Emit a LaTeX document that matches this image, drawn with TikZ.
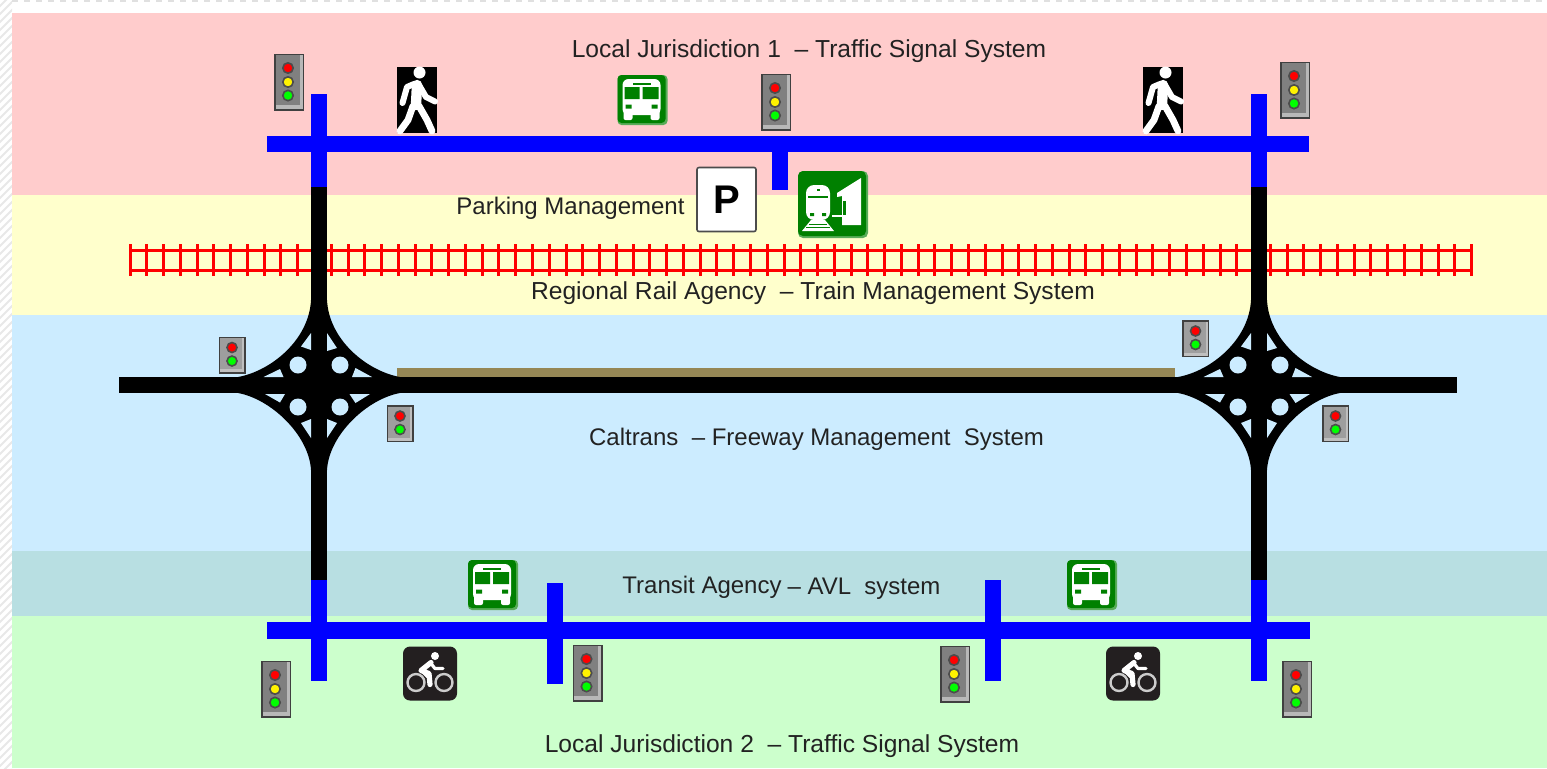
\documentclass[tikz,border=0pt]{standalone}
\usepackage{fontspec}
\setmainfont{Liberation Sans}
\definecolor{bandpink}{HTML}{FFCCCC}
\definecolor{bandyellow}{HTML}{FFFFCC}
\definecolor{bandblue}{HTML}{CCECFF}
\definecolor{bandteal}{HTML}{B8DFE2}
\definecolor{bandgreen}{HTML}{CCFFCC}
\definecolor{roadblue}{HTML}{0000FF}
\definecolor{tan}{HTML}{958755}
\definecolor{signgreen}{HTML}{008000}
\definecolor{bikeblack}{HTML}{231F20}
\definecolor{labelink}{HTML}{222222}
\tikzset{
  x=0.5pt,y=-0.5pt,
  lbl/.style={inner sep=0pt,text=labelink,font=\fontsize{12.3pt}{14pt}\selectfont},
  lblnarrow/.style={inner sep=0pt,text=labelink,font=\fontsize{12pt}{14pt}\selectfont},
  lamp/.style={draw=black!70,line width=0.8pt},
  iconwhite/.style={white,line width=3pt,line cap=round,line join=round},
  signalthree/.pic={
    \fill[black!75] (-15,-28.5) rectangle (15,28.5);
    \fill[black!28] (-13.5,-27) rectangle (13.5,27);
    \fill[black!50] (-13.5,-27) rectangle (10.5,23);
    \fill[red,lamp] (-1,-14) circle (5.2);
    \fill[yellow,lamp] (-1,0) circle (5.2);
    \fill[green,lamp] (-1,13.5) circle (5.2);
  },
  signaltwo/.pic={
    \fill[black!75] (-13.5,-18.5) rectangle (13.5,18.5);
    \fill[black!25] (-12,-17) rectangle (12,17);
    \fill[black!38] (-12,-17) rectangle (10,14);
    \fill[red,lamp] (0,-7.5) circle (5);
    \fill[green,lamp] (0,6) circle (5);
  },
  walkersign/.pic={
    \fill[black] (-20,-33) rectangle (20,33);
    \fill[white] (2.5,-27.5) circle (6);
    \draw[iconwhite,line width=5.2pt] (0,-15) -- (-1,5);
    \draw[iconwhite] (-3,-16) -- (-10,-13) -- (-14.5,3);
    \draw[iconwhite] (2,-15) -- (9,-3) -- (18,1.5);
    \draw[iconwhite,line width=3.4pt] (-4,6) -- (-9,20) -- (-17,31);
    \draw[iconwhite,line width=3.4pt] (2,6) -- (10,20) -- (15,31);
  },
  bussign/.pic={
    \fill[signgreen!65!white,rounded corners=2pt] (-25,-25) rectangle (25,25);
    \fill[signgreen,rounded corners=2pt] (-25,-25) rectangle (23,23);
    \fill[white,rounded corners=3pt] (-20,-21) rectangle (18,15);
    \fill[white,rounded corners=1pt] (-19,10) rectangle (-10,20) (8,10) rectangle (17,20);
    \fill[signgreen] (-18,-13) rectangle (-3,-1) (0,-13) rectangle (16,-1);
    \fill[signgreen] (-10,-17.5) rectangle (8,-15.5);
    \fill[signgreen] (-17,4.5) rectangle (-11,8.5) (9,4.5) rectangle (15,8.5);
  },
  bikesign/.pic={
    \fill[bikeblack,rounded corners=3.5pt] (-27,-27) rectangle (27,27);
    \draw[black!20,line width=1.2pt] (-14,9) circle (8.5) (14,9) circle (8.5);
    \fill[white] (5,-17.5) circle (4);
    \draw[iconwhite,line width=2.6pt] (1,-11) -- (-9,-3) -- (-1,0) -- (0,11);
    \draw[iconwhite,line width=2pt] (-8,-3) -- (-2,3);
    \draw[iconwhite,line width=1.6pt] (1,-10) -- (5,-5) -- (13,-5);
  },
  interchange/.pic={
    \fill[black] (-8,-85) .. controls (-10,-45) and (-48,-14) .. (-81,-8)
      -- (-81,8) .. controls (-48,14) and (-10,50) .. (-8,85)
      -- (8,85) .. controls (10,50) and (48,14) .. (81,8)
      -- (81,-8) .. controls (48,-14) and (10,-45) .. (8,-85) -- cycle;
    \fill[bandblue]
      (-21,-20) circle (8.5) (21,-20) circle (8.5) (-21,22) circle (8.5) (21,22) circle (8.5)
      (-8,-52) -- (-8,-35) -- (-18,-38.5) -- cycle
      (8,-52) -- (18,-37) -- (8,-34) -- cycle
      (-55.5,-8) -- (-35.5,-8) -- (-39,-16) -- cycle
      (33,-8) -- (53,-8) -- (36.5,-17) -- cycle
      (-54,9) -- (-34,9) -- (-39,17.5) -- cycle
      (30.5,9) -- (51,9) -- (36.5,18) -- cycle
      (-8,34) -- (-8,53) -- (-18,38) -- cycle
      (8,34) -- (8,53) -- (18,38) -- cycle;
  },
}
\begin{document}
\begin{tikzpicture}
\useasboundingbox (0,0) rectangle (1547,768);
\fill[white] (0,0) rectangle (1547,768);
% page edge
\begin{scope}
\clip (0,0) rectangle (12,768);
\foreach \k in {0,8,...,784}
  \draw[black!9,line width=1pt] (-2,\k) -- (14,\k-16);
\end{scope}
\draw[black!12,line width=0.7pt,dashed] (12,1) -- (1547,1);
% bands
\fill[bandpink] (12,13) rectangle (1547,195);
\fill[bandyellow] (12,195) rectangle (1547,315);
\fill[bandblue] (12,315) rectangle (1547,551);
\fill[bandteal] (12,551) rectangle (1547,616);
\fill[bandgreen] (12,616) rectangle (1547,768);
% rail
\draw[red,line width=1.5pt] (130,250) -- (1473,250) (130,270) -- (1473,270);
\foreach \k in {0,...,80}
  \draw[red,line width=1.5pt] ({130+\k*16.77},244) -- ({130+\k*16.77},276);
% freeway
\fill[tan] (397,368) rectangle (1175,377);
\fill[black] (119,377) rectangle (1457,393);
% arterial connections
\fill[black] (311,187) rectangle (327,580);
\fill[black] (1251,187) rectangle (1267,580);
\pic at (319,385) {interchange};
\pic at (1259,385) {interchange};
% surface streets
\fill[roadblue] (267,135.5) rectangle (1309,152);
\fill[roadblue] (311,94) rectangle (327,187);
\fill[roadblue] (1251,94) rectangle (1267,187);
\fill[roadblue] (772,152) rectangle (788,190);
\fill[roadblue] (267,622) rectangle (1310,639);
\fill[roadblue] (311,580) rectangle (327,681);
\fill[roadblue] (1251,580) rectangle (1267,681);
\fill[roadblue] (547,583) rectangle (563,684);
\fill[roadblue] (985,580) rectangle (1001,681);
% signals
\pic (s1) at (289,82) {signalthree};
\pic (s2) at (776,102) {signalthree};
\pic (s3) at (1295,90) {signalthree};
\pic (s4) at (276,689) {signalthree};
\pic (s5) at (587.5,673) {signalthree};
\pic (s6) at (955,674) {signalthree};
\pic (s7) at (1297,689) {signalthree};
\pic (t1) at (232,355) {signaltwo};
\pic (t2) at (400,423.5) {signaltwo};
\pic (t3) at (1195.5,338.5) {signaltwo};
\pic (t4) at (1335.5,423.5) {signaltwo};
% icons
\pic (w1) at (417,100) {walkersign};
\pic (w2) at (1163,100) {walkersign};
\pic (b1) at (642.5,100) {bussign};
\pic (b2) at (493,585) {bussign};
\pic (b3) at (1092,585) {bussign};
\pic (c1) at (430,673.5) {bikesign};
\pic (c2) at (1133,673.5) {bikesign};
% parking
\node[draw=black!70,fill=white,line width=0.8pt,rounded corners=1pt,minimum width=29.5pt,minimum height=32pt,inner sep=0pt,font=\bfseries\fontsize{20pt}{22pt}\selectfont] (parking) at (726.5,199.5) {P};
% train station sign
\fill[signgreen!65!white,rounded corners=2.5pt] (798,171) rectangle (868,238);
\fill[signgreen,rounded corners=2.5pt] (798,171) rectangle (866,236);
\fill[white,rounded corners=4pt] (806,185) rectangle (830,220);
\fill[signgreen] (808,196) rectangle (828,198);
\fill[signgreen] (816.5,189) rectangle (819.5,191);
\fill[signgreen] (810,213) rectangle (814,216) (822,213) rectangle (826,216);
\fill[white] (811,220) -- (825,220) -- (834,231) -- (802,231) -- cycle;
\draw[signgreen,line width=0.5pt] (809,224) -- (827,224) (806,227.5) -- (830,227.5);
\fill[white] (837,193) -- (861,178) -- (861,225) -- (842,225) -- (842,196) -- (837,197) -- cycle;
\draw[white,line width=0.6pt] (832,216) -- (842,216);
\fill[signgreen] (843,201) rectangle (846,215);
% labels
\node[lbl] (l1) at (809,51.5) {Local Jurisdiction 1\ \ -- Traffic Signal System};
\node[lblnarrow] (l2) at (570.5,208) {Parking Management};
\node[lbl] (l3) at (813,293.5) {Regional Rail Agency\ \ -- Train Management System};
\node[lblnarrow] (l4) at (816.5,439.5) {Caltrans\ \ -- Freeway Management\ \ System};
\node[lblnarrow] (l5) at (702,587) {Transit Agency};
\node[lblnarrow] (l6) at (864,589) {-- AVL\ \ system};
\node[lbl] (l7) at (782,746.5) {Local Jurisdiction 2\ \ -- Traffic Signal System};
\end{tikzpicture}
\end{document}
